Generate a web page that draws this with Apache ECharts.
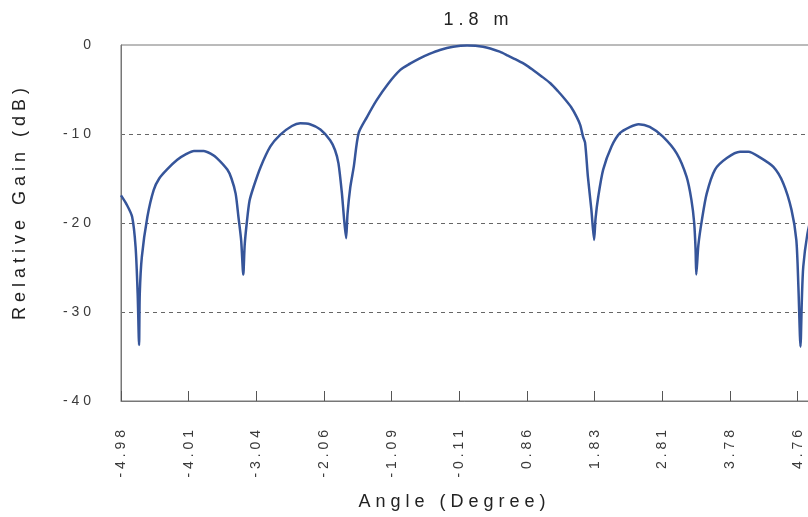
<!DOCTYPE html>
<html>
<head>
<meta charset="utf-8">
<script src="https://cdn.jsdelivr.net/npm/echarts@6/dist/echarts.min.js"></script>
<style>
  html, body { margin: 0; padding: 0; background: #fff; }
  #chart { width: 808px; height: 517px; }
</style>
</head>
<body>
<div id="chart"></div>
<script>
// antenna pattern, 1.8 m dish
const angles = [
  -4.98, -4.90, -4.82, -4.77, -4.74, -4.72, -4.71, -4.68, -4.60, -4.51,
  -4.43, -4.32, -4.17, -4.05, -3.93, -3.79, -3.69, -3.60, -3.45, -3.39,
  -3.33, -3.29, -3.25, -3.22, -3.20, -3.17, -3.13, -3.07, -2.97, -2.83,
  -2.69, -2.52, -2.40, -2.26, -2.11, -1.97, -1.90, -1.85, -1.80, -1.77,
  -1.74, -1.72, -1.68, -1.63, -1.56, -1.44, -1.30, -1.14, -0.96, -0.82,
  -0.68, -0.54, -0.39, -0.20, 0.00, 0.23, 0.47, 0.59, 0.72, 0.84,
  0.95, 1.07, 1.20, 1.31, 1.41, 1.50, 1.58, 1.63, 1.67, 1.70,
  1.74, 1.79, 1.83, 1.85, 1.89, 1.96, 2.08, 2.20, 2.35, 2.47,
  2.63, 2.82, 3.02, 3.16, 3.23, 3.27, 3.29, 3.30, 3.33, 3.38,
  3.45, 3.57, 3.74, 3.93, 4.05, 4.21, 4.41, 4.55, 4.67, 4.74,
  4.77, 4.80, 4.82, 4.84, 4.90, 4.98
]
const gains = [
  -16.9, -17.9, -19.3, -22.7, -28.0, -33.7, -28.0, -23.8, -19.3, -16.3,
  -15.0, -14.0, -12.9, -12.3, -11.9, -11.9, -12.2, -12.7, -14.0, -15.0,
  -16.7, -19.3, -22.0, -25.8, -22.5, -20.0, -17.5, -15.9, -13.7, -11.4,
  -10.1, -9.1, -8.8, -8.9, -9.5, -10.7, -11.8, -13.3, -16.7, -19.5,
  -21.7, -19.0, -16.0, -13.7, -9.9, -8.1, -6.2, -4.4, -2.8, -2.1,
  -1.5, -1.0, -0.56, -0.2, -0.05, -0.2, -0.75, -1.2, -1.7, -2.2,
  -2.8, -3.5, -4.3, -5.2, -6.1, -7.0, -8.1, -9.0, -10.3, -11.0,
  -14.8, -18.5, -21.9, -19.5, -17.0, -14.0, -11.4, -9.9, -9.2, -8.9,
  -9.2, -10.3, -12.2, -14.8, -17.4, -20.0, -23.0, -25.8, -22.5, -19.7,
  -16.7, -14.0, -12.7, -12.0, -12.0, -12.6, -13.7, -15.5, -18.5, -21.9,
  -27.2, -33.9, -28.5, -24.9, -21.2, -18.5
]
const xTickLabels = ['-4.98', '-4.01', '-3.04', '-2.06', '-1.09', '-0.11', '0.86', '1.83', '2.81', '3.78', '4.76']
const xMin = -4.98
const xMax = 4.98
const xStep = 0.974

// the old plot spreads its letters out
function spread(s) {
  return String(s).split('').join(' ')
}

const chart = echarts.init(document.getElementById('chart'))

chart.setOption({
  backgroundColor: '#fff',
  animation: false,
  title: {
    text: spread('1.8 m'),
    left: 471,
    top: 6,
    textAlign: 'center',
    textStyle: {
      fontFamily: 'Liberation Sans',
      fontSize: 18,
      fontWeight: 'normal',
      color: '#222'
    }
  },
  grid: {
    left: 121,
    top: 45,
    right: -5,
    bottom: 116,
    show: true,
    borderColor: '#777',
    borderWidth: 1,
    outerBoundsMode: 'none'
  },
  xAxis: {
    type: 'value',
    min: xMin,
    max: xMax,
    interval: xStep,
    name: spread('Angle (Degree)'),
    nameLocation: 'middle',
    nameGap: 92,
    nameTextStyle: {
      fontFamily: 'Liberation Sans',
      fontSize: 18,
      color: '#222',
      padding: [0, 30, 0, 0]
    },
    axisLine: { onZero: false, lineStyle: { color: '#777', width: 1 } },
    axisTick: { inside: true, length: 10, lineStyle: { color: '#555' } },
    splitLine: { show: false },
    axisLabel: {
      rotate: 90,
      margin: 29,
      fontFamily: 'Liberation Sans',
      fontSize: 14,
      color: '#3a3a3a',
      formatter: function(v) {
        const i = Math.round((v - xMin) / xStep)
        if (Math.abs(v - (xMin + i * xStep)) > 0.01) return ''
        return spread(xTickLabels[i] || '')
      }
    }
  },
  yAxis: {
    type: 'value',
    min: -40,
    max: 0,
    interval: 10,
    name: spread('Relative Gain (dB)'),
    nameLocation: 'middle',
    nameGap: 92,
    nameTextStyle: {
      fontFamily: 'Liberation Sans',
      fontSize: 18,
      color: '#222',
      padding: [0, 0, 0, 38]
    },
    axisLine: { show: true, onZero: false, lineStyle: { color: '#777', width: 1 } },
    axisTick: { show: false },
    splitLine: {
      show: true,
      // no dashes on the frame lines at -40 and 0
      lineStyle: {
        color: ['rgba(0,0,0,0)', '#666', '#666', '#666', 'rgba(0,0,0,0)'],
        type: [4, 4],
        width: 1
      }
    },
    axisLabel: {
      margin: 30,
      fontFamily: 'Liberation Sans',
      fontSize: 14,
      color: '#3a3a3a',
      formatter: function(v) {
        return spread(v)
      }
    }
  },
  series: [
    {
      type: 'line',
      data: angles.map((a, i) => [a, gains[i]]),
      symbol: 'none',
      smooth: 0.25,
      lineStyle: { color: '#36559a', width: 2.5 }
    }
  ]
})
</script>
</body>
</html>
